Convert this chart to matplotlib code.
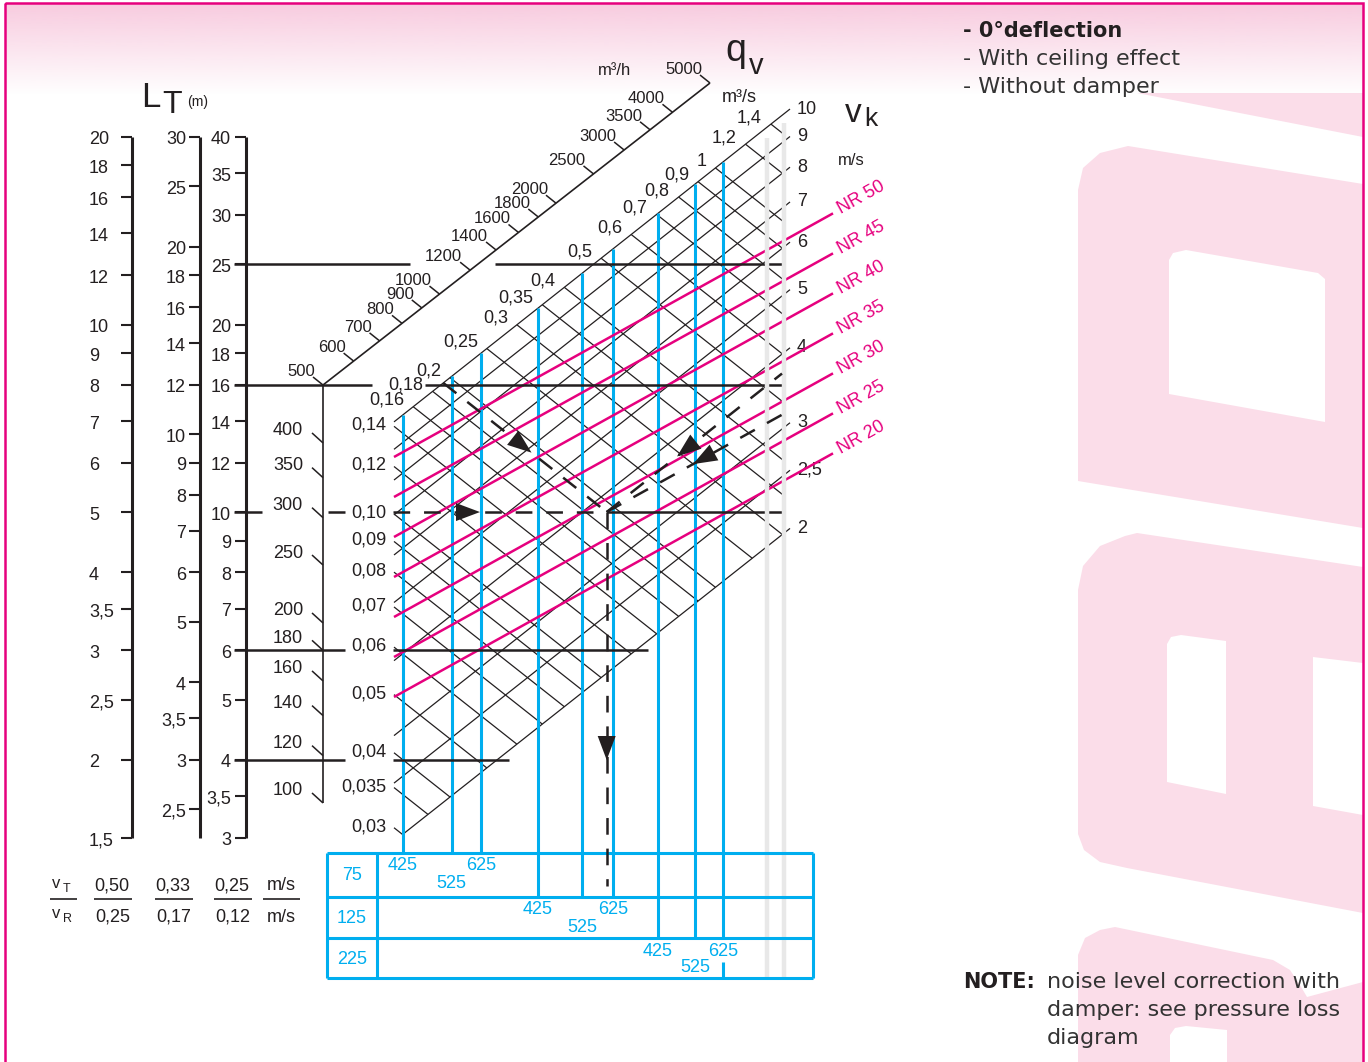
import numpy as np
import matplotlib.pyplot as plt
from matplotlib.patches import Polygon, Rectangle

plt.rcParams['font.family'] = ['Liberation Sans', 'DejaVu Sans']
plt.rcParams['lines.scale_dashes'] = False
plt.rcParams['lines.solid_capstyle'] = 'butt'

INK = '#231f20'
BLUE = '#00aeef'
MAGENTA = '#e6007e'
GREY = '#e8e8e8'
PINK = '#fbdde9'

# throw L_T (m) for the three vT/vR ratios
lt_scale_a = [20, 18, 16, 14, 12, 10, 9, 8, 7, 6, 5, 4, 3.5, 3, 2.5, 2, 1.5]
lt_scale_b = [30, 25, 20, 18, 16, 14, 12, 10, 9, 8, 7, 6, 5, 4, 3.5, 3, 2.5]
lt_scale_c = [40, 35, 30, 25, 20, 18, 16, 14, 12, 10, 9, 8, 7, 6, 5, 4, 3.5, 3]
vt_ratio = ['0,50', '0,33', '0,25']
vr_ratio = ['0,25', '0,17', '0,12']

# airflow m3/h
qh_vertical = [500, 400, 350, 300, 250, 200, 180, 160, 140, 120, 100]
qh_diagonal = [500, 600, 700, 800, 900, 1000, 1200, 1400, 1600, 1800,
               2000, 2500, 3000, 3500, 4000, 5000]

# airflow m3/s (falling grid lines)
qv_lines = [0.03, 0.035, 0.04, 0.05, 0.06, 0.07, 0.08, 0.09, 0.10, 0.12,
            0.14, 0.16, 0.18, 0.2, 0.25, 0.3, 0.35, 0.4, 0.5, 0.6, 0.7,
            0.8, 0.9, 1, 1.2, 1.4]

# core velocity vk m/s (rising grid lines)
vk_lines = [2, 2.5, 3, 4, 5, 6, 7, 8, 9, 10]

nr_levels = [50, 45, 40, 35, 30, 25, 20]

neck_heights = [75, 125, 225]
neck_lengths = [425, 525, 625]
# effective free area (m2) per neck size
neck_area = [[0.0150, 0.0202, 0.0241],
             [0.0341, 0.0445, 0.0537],
             [0.0706, 0.0884, 0.1047]]

# horizontal reading lines, values on the 0,25/0,12 throw scale
throw_lines = [25, 16, 10, 6, 4]

# worked example
example_qv = 0.192
example_throw = 10


def fmt(v):
    if v == 0.10:
        return '0,10'
    return ('%g' % v).replace('.', ',')


# nomogram geometry (drawing units = pixels)
XL, XR = 394, 788
SL = 0.79
K = 600


def y_throw(v, ratio=1.0):
    return 947.5 - 623 * np.log10(v / ratio)


def qh_vert_y(v):
    return 385 + 598 * np.log10(500 / v)


def qh_diag_xy(v):
    L = np.log10(v / 500)
    return 323 + 387 * L, 385 - 302 * L


def qv_y(q, x):
    return 514 - K * np.log10(q / 0.1) + SL * (x - XL)


def vk_y(v, x):
    return 530 - K * np.log10(v / 2) - SL * (x - XR)


def cross_x(q, v):
    return (16 + K * np.log10(q / 0.1) - K * np.log10(v / 2)
            + SL * (XL + XR)) / (2 * SL)


def nr_y(nr, x):
    return 457 + (50 - nr) * 8 - 0.555 * (x - XL)


fig = plt.figure(figsize=(13.68, 10.62), dpi=100)
ax = fig.add_axes([0, 0, 1, 1])


def num(x, y, s, size=13, color=INK, **kw):
    ax.text(x, y, s, fontsize=size, color=color,
            fontfamily='Liberation Sans', **kw)


# background: header fade, watermark, frame
grad = np.ones((120, 1, 4))
grad[:, 0, :3] = np.array([248, 203, 223]) / 255
grad[:, 0, 3] = np.linspace(1, 0, 120)
ax.imshow(grad, extent=(5, 1363, 95, 3), aspect='auto',
          interpolation='bilinear', zorder=0.6)

marks = [
    [(1137, 93), (1363, 93), (1363, 137)],
    [(1078, 481), (1078, 190), (1083, 168), (1100, 153), (1128, 146),
     (1363, 184), (1363, 528)],
    [(1078, 590), (1083, 566), (1100, 546), (1125, 536), (1137, 533),
     (1363, 567), (1363, 913), (1127, 868), (1100, 862), (1084, 850),
     (1078, 834)],
    [(1078, 1062), (1078, 955), (1085, 938), (1100, 930), (1115, 927),
     (1273, 960), (1290, 970), (1300, 985), (1307, 997), (1363, 982),
     (1363, 1062)],
]
holes = [
    [(1169, 394), (1169, 260), (1173, 253), (1186, 250), (1318, 273),
     (1325, 279), (1325, 422)],
    [(1167, 782), (1167, 644), (1171, 637), (1181, 635), (1226, 641),
     (1226, 794)],
    [(1313, 806), (1313, 657), (1363, 663), (1363, 815)],
    [(1170, 1062), (1170, 1035), (1175, 1028), (1186, 1026), (1227, 1030),
     (1227, 1062)],
]
for p in marks:
    ax.add_patch(Polygon(p, closed=True, fc=PINK, ec='none', zorder=0.5))
for p in holes:
    ax.add_patch(Polygon(p, closed=True, fc='white', ec='none', zorder=0.55))
ax.add_patch(Rectangle((5, 3), 1358, 1075, fill=False, ec=MAGENTA, lw=1.8,
                       zorder=10))

# throw scales
for vals, ratio, xl, lx, ha in [(lt_scale_a, 1.0, 132, 89, 'left'),
                                (lt_scale_b, 1.5, 200, 186, 'right'),
                                (lt_scale_c, 2.0, 246, 231, 'right')]:
    ax.plot([xl, xl], [y_throw(vals[0], ratio), y_throw(lt_scale_a[-1])],
            color=INK, lw=2.2, zorder=4)
    for v in vals:
        y = y_throw(v, ratio)
        ax.plot([xl - 11, xl], [y, y], color=INK, lw=1.5, zorder=4)
        num(lx, y + 3, fmt(v), ha=ha, va='center')

ax.text(141, 107, 'L', fontsize=25, color=INK)
ax.text(162, 113, 'T', fontsize=23, color=INK)
ax.text(187, 106, '(m)', fontsize=10, color=INK)

# m3/h scales
ax.plot([323, 323], [qh_vert_y(500), qh_vert_y(100)], color=INK, lw=1.2)
for v in qh_vertical[1:]:
    y = qh_vert_y(v)
    ax.plot([312, 323], [y - 10, y], color=INK, lw=1.1)
    num(303, y - 12, str(v), ha='right', va='center')

x0, y0 = qh_diag_xy(qh_diagonal[0])
x1, y1 = qh_diag_xy(qh_diagonal[-1])
ax.plot([x0, x1], [y0, y1], color=INK, lw=1.2)
for v in qh_diagonal:
    px, py = qh_diag_xy(v)
    ax.plot([px, px - 10], [py, py - 8], color=INK, lw=1.1)
    num(px - 8, py - 9, str(v), size=12, ha='right', va='baseline')

num(598, 75, 'm³/h', size=12, va='baseline')
ax.text(725, 61, 'q', fontsize=27, color=INK)
ax.text(749, 74, 'v', fontsize=21, color=INK)
num(722, 102, 'm³/s', va='baseline')
ax.text(845, 122, 'v', fontsize=24, color=INK)
ax.text(864, 126, 'k', fontsize=19, color=INK)
num(838, 165, 'm/s', size=12, va='baseline')

# velocity / airflow grid
for q in qv_lines:
    xs = max(XL, cross_x(q, vk_lines[-1]))
    xe = min(785, cross_x(q, vk_lines[0]))
    ax.plot([xs, xe], [qv_y(q, xs), qv_y(q, xe)], color=INK, lw=0.9,
            zorder=1)
    if xs == XL:
        num(XL - 8, qv_y(q, XL) - 1, fmt(q), ha='right', va='center')
    else:
        num(xs - 9, qv_y(q, xs) - 2, fmt(q), ha='right', va='baseline')

for v in vk_lines:
    xs = max(XL, cross_x(qv_lines[0], v))
    ax.plot([xs, 790], [vk_y(v, xs), vk_y(v, 790)], color=INK, lw=0.9,
            zorder=1)
    num(797, vk_y(v, 790), fmt(v), ha='left', va='center')

# neck size lines and table
row_y = [853, 897, 938, 978]
for r, row in enumerate(neck_area):
    for c, a in enumerate(row):
        x = cross_x(2 * a, 2)
        ax.plot([x, x], [vk_y(10, x), row_y[r]], color=BLUE, lw=2.2,
                zorder=2)
        num(x, row_y[r] + (13 if c != 1 else 30), str(neck_lengths[c]),
            color=BLUE, ha='center', va='center')
    num(352, (row_y[r] + row_y[r + 1]) / 2 + 1, str(neck_heights[r]),
        color=BLUE, ha='center', va='center')
xs = cross_x(2 * neck_area[2][2], 2)
ax.plot([xs, xs], [row_y[3] - 16, row_y[3]], color=BLUE, lw=2.2, zorder=6)

for y in row_y:
    ax.plot([327, 813], [y, y], color=BLUE, lw=2.2, zorder=6)
for x in [327, 377, 813]:
    ax.plot([x, x], [row_y[0], row_y[-1]], color=BLUE, lw=2.2, zorder=6)

# noise rating lines
for nr in nr_levels:
    ax.plot([XL, 833], [nr_y(nr, XL), nr_y(nr, 833)], color=MAGENTA, lw=1.8,
            zorder=3)
    num(839, nr_y(nr, 833) - 3, f'NR {nr}', size=13, color=MAGENTA,
        rotation=29, rotation_mode='anchor', ha='left', va='center')

# horizontal reading lines
ex_y = y_throw(example_throw, 2)
ex_x = XL + (ex_y - qv_y(example_qv, XL)) / SL
gaps = {25: [(410, 495)], 16: [(372, 425)], 10: [(262, 328), (345, 393)],
        6: [(345, 393)], 4: [(345, 393)]}
for t in throw_lines:
    y = y_throw(t, 2)
    xe = min(782, XR + (530 - y) / SL + 12)
    pts = [234]
    for g in gaps[t]:
        pts += list(g)
    pts.append(xe)
    for a, b in zip(pts[::2], pts[1::2]):
        if t == example_throw and a >= 393:
            ax.plot([ex_x, b], [y, y], color=INK, lw=1.8, zorder=4)
        else:
            ax.plot([a, b], [y, y], color=INK, lw=1.8, zorder=4)

ax.plot([767, 767], [138, row_y[-1]], color=GREY, lw=3.2, zorder=5)
ax.plot([784, 784], [123, row_y[-1]], color=GREY, lw=3.2, zorder=5)

# worked example path
DASH = (12, 10)


def dashed(xv, yv):
    ax.plot(xv, yv, color=INK, lw=1.8, dashes=DASH, zorder=7)


def head(tip, d, length=24, half=9):
    d = np.asarray(d, float)
    d /= np.hypot(*d)
    n = np.array([-d[1], d[0]])
    tip = np.asarray(tip, float)
    base = tip - d * length
    ax.add_patch(Polygon([tip, base + n * half, base - n * half],
                         closed=True, fc=INK, ec='none', zorder=8))


qs = cross_x(example_qv, vk_lines[-1])
qsy = qv_y(example_qv, qs)
dashed([qs, ex_x], [qsy, ex_y])
f = 0.54
head((qs + f * (ex_x - qs), qsy + f * (ex_y - qsy)), (1, SL))

dashed([393, ex_x], [ex_y, ex_y])
head((480, ex_y), (1, 0))

dashed([ex_x, ex_x], [ex_y, 886])
head((ex_x, 760), (0, 1))

dashed([ex_x, 782], [ex_y, ex_y - SL * (782 - ex_x)])
head((677, ex_y - SL * (677 - ex_x)), (-1, SL))
dashed([ex_x, 782], [ex_y, ex_y - 0.555 * (782 - ex_x)])
head((693, ex_y - 0.555 * (693 - ex_x)), (-1, 0.555))

# vT / vR ratios
ax.text(52, 888, 'v', fontsize=12, color=INK)
ax.text(63, 892, 'T', fontsize=9, color=INK)
ax.text(52, 918, 'v', fontsize=12, color=INK)
ax.text(63, 922, 'R', fontsize=9, color=INK)
ax.plot([50, 77], [899, 899], color=INK, lw=1.2)
for cx, top, bot in zip([112, 173, 232], vt_ratio, vr_ratio):
    num(cx, 886, top, ha='center', va='center')
    num(cx + 1, 917, bot, ha='center', va='center')
    ax.plot([cx - 18, cx + 20], [899, 899], color=INK, lw=1.2)
num(281, 886, 'm/s', ha='center', va='center')
num(281, 917, 'm/s', ha='center', va='center')
ax.plot([263, 300], [899, 899], color=INK, lw=1.2)

# notes
ax.text(963, 37, '- 0°deflection', fontsize=15, fontweight='bold',
        fontfamily='DejaVu Sans', color=INK)
ax.text(963, 65, '- With ceiling effect', fontsize=16,
        fontfamily='DejaVu Sans', color='#333333')
ax.text(963, 93, '- Without damper', fontsize=16,
        fontfamily='DejaVu Sans', color='#333333')
ax.text(963, 988, 'NOTE:', fontsize=15, fontweight='bold',
        fontfamily='DejaVu Sans', color=INK, zorder=9)
for i, line in enumerate(['noise level correction with',
                          'damper: see pressure loss', 'diagram']):
    ax.text(1047, 988 + 28 * i, line, fontsize=16,
            fontfamily='DejaVu Sans', color='#333333', zorder=9)

ax.set_xlim(0, 1368)
ax.set_ylim(1062, 0)
ax.axis('off')
fig.savefig('out.png', dpi=100)
